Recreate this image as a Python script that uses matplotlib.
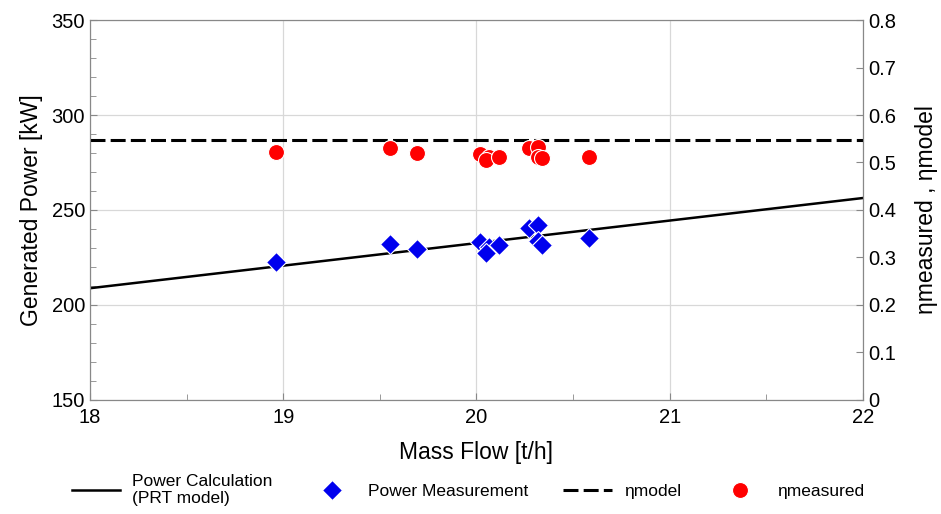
import numpy as np
import matplotlib.pyplot as plt
from matplotlib.ticker import MultipleLocator, FuncFormatter

plt.rcParams['font.family'] = ['Liberation Sans', 'DejaVu Sans']

# PRT model line (end points)
flow_calc = [18.0, 22.0]
power_calc = [208.8, 256.3]

# measured power
flow_meas = [18.965, 19.55, 19.69, 20.016, 20.065, 20.047, 20.116,
             20.27, 20.32, 20.32, 20.34, 20.58]
power_meas = [222.4, 232.1, 229.4, 233.3, 230.4, 227.5, 231.6,
              240.4, 242.1, 233.8, 231.6, 235.1]

# efficiency
eta_model = 0.547
eta_meas = [0.522, 0.530, 0.519, 0.518, 0.511, 0.505, 0.512,
            0.530, 0.533, 0.512, 0.509, 0.511]

fig = plt.figure(figsize=(9.41, 5.14), dpi=100)
ax = fig.add_axes([0.0956, 0.222, 0.8215, 0.739])
ax2 = ax.twinx()

ax.plot(flow_calc, power_calc, color='black', lw=1.8, label='Power Calculation\n(PRT model)')
ax.plot(flow_meas, power_meas, 'D', color='#0000ee', ms=10.5, mec='white', mew=0.8,
        linestyle='none', label='Power Measurement')
ax2.plot([18, 22], [eta_model, eta_model], color='black', lw=2.2, ls=(0, (4.9, 1.7)),
         label='ηmodel')
ax2.plot(flow_meas, eta_meas, 'o', color='#ff0000', ms=11.5, mec='white', mew=0.8,
         linestyle='none', label='ηmeasured')

ax.set_xlim(18, 22)
ax.set_ylim(150, 350)
ax2.set_ylim(0, 0.8)
ax.xaxis.set_major_locator(MultipleLocator(1))
ax.xaxis.set_minor_locator(MultipleLocator(0.5))
ax.yaxis.set_major_locator(MultipleLocator(50))
ax.yaxis.set_minor_locator(MultipleLocator(10))
ax2.yaxis.set_major_locator(MultipleLocator(0.1))
ax2.yaxis.set_major_formatter(FuncFormatter(lambda v, p: '0' if abs(v) < 1e-9 else f'{v:.1f}'))
ax.grid(True, which='major', color='#d8d8d8', lw=0.9)
ax.set_axisbelow(True)

ax.tick_params(which='both', direction='in', labelsize=14.5, color='#888888')
ax.tick_params(which='major', length=5)
ax.tick_params(which='minor', length=4)
ax.tick_params(axis='x', pad=6)
ax2.tick_params(direction='in', labelsize=14.5, color='#888888', length=5)
for a in (ax, ax2):
    for s in a.spines.values():
        s.set_color('#888888')

ax.set_xlabel('Mass Flow [t/h]', fontsize=16.5, labelpad=10)
ax.set_ylabel('Generated Power [kW]', fontsize=16.5, labelpad=6)
ax2.set_ylabel('ηmeasured , ηmodel', fontsize=16.5, labelpad=14)

h1, l1 = ax.get_legend_handles_labels()
h2, l2 = ax2.get_legend_handles_labels()
fig.legend(h1 + h2, l1 + l2, loc='lower center', bbox_to_anchor=(0.497, -0.015),
           ncol=4, frameon=False, fontsize=12.5, columnspacing=2.0, handlelength=2.8,
           handletextpad=0.7)

fig.savefig('out.png', dpi=100)
